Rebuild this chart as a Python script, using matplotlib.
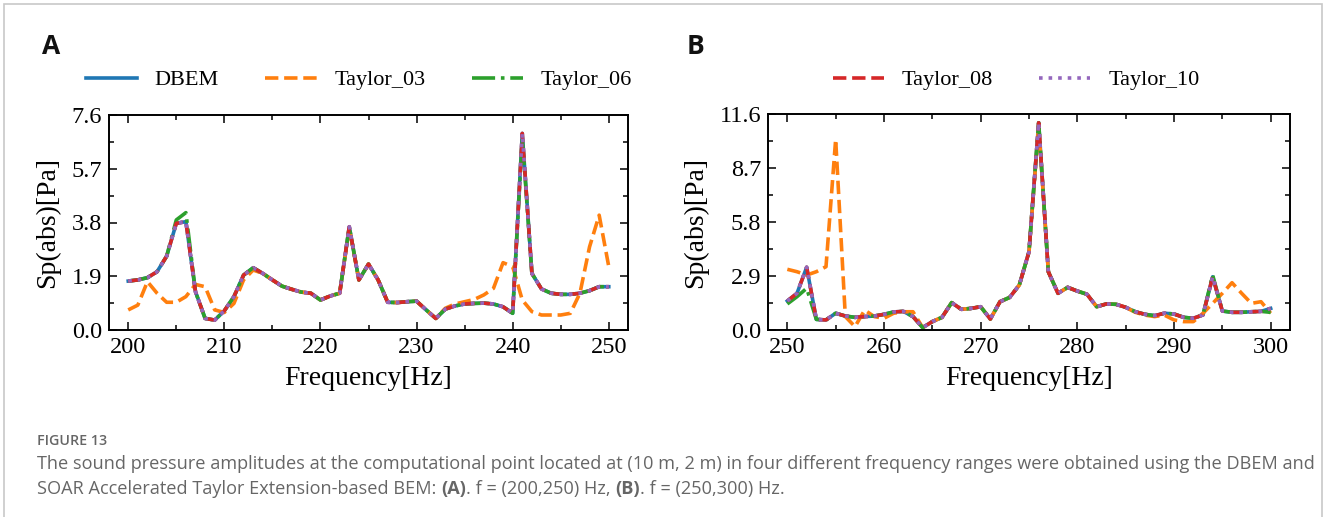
import matplotlib
matplotlib.use('Agg')
import matplotlib.pyplot as plt
from matplotlib.ticker import MultipleLocator, AutoMinorLocator
from matplotlib.patches import Rectangle

plt.rcParams['font.family'] = 'Liberation Serif'

# ---- data, panel A: 200-250 Hz ----
freq_a = list(range(200, 251))
dbem_a = [1.73, 1.77, 1.85, 2.06, 2.61, 3.77, 3.83, 1.35, 0.41, 0.35,
          0.68, 1.18, 1.94, 2.20, 2.00, 1.77, 1.55, 1.44, 1.34, 1.30,
          1.06, 1.20, 1.30, 3.65, 1.77, 2.33, 1.77, 0.98, 0.97, 1.00,
          1.02, 0.71, 0.41, 0.74, 0.85, 0.92, 0.94, 0.95, 0.92, 0.82,
          0.59, 6.95, 2.00, 1.45, 1.30, 1.26, 1.26, 1.30, 1.39, 1.53,
          1.53]
taylor03_a = [0.71, 0.88, 1.71, 1.30, 0.98, 0.98, 1.18, 1.61, 1.53, 0.71,
              0.62, 0.94, 1.77, 2.12, 2.00, 1.77, 1.55, 1.44, 1.34, 1.30,
              1.06, 1.20, 1.30, 3.60, 1.77, 2.33, 1.77, 0.98, 0.97, 1.00,
              1.02, 0.71, 0.41, 0.77, 0.92, 1.00, 1.08, 1.24, 1.47, 2.38,
              2.24, 1.06, 0.65, 0.53, 0.53, 0.53, 0.59, 1.30, 2.94, 4.06,
              2.24]
taylor06_a = list(dbem_a)
taylor06_a[5] = 3.89
taylor06_a[6] = 4.15
taylor06_a[41] = 6.80
taylor08_a = list(dbem_a)
taylor10_a = list(dbem_a)

# ---- data, panel B: 250-300 Hz ----
freq_b = list(range(250, 301))
dbem_b = [1.56, 1.97, 3.37, 0.57, 0.54, 0.90, 0.75, 0.68, 0.72, 0.75,
          0.84, 0.97, 1.00, 0.72, 0.13, 0.45, 0.68, 1.47, 1.11, 1.16,
          1.25, 0.59, 1.52, 1.75, 2.42, 4.20, 11.13, 3.13, 1.97, 2.29,
          2.09, 1.92, 1.25, 1.40, 1.38, 1.22, 0.98, 0.84, 0.77, 0.90,
          0.86, 0.68, 0.63, 0.81, 2.86, 1.02, 0.95, 0.95, 0.98, 1.00,
          1.16]
taylor03_b = [3.26, 3.13, 2.95, 3.13, 3.40, 10.24, 0.72, 0.18, 1.07, 0.72,
              0.63, 0.90, 0.98, 0.98, 0.13, 0.45, 0.68, 1.47, 1.11, 1.16,
              1.25, 0.59, 1.52, 1.75, 2.42, 4.20, 11.00, 3.13, 1.97, 2.29,
              2.09, 1.92, 1.25, 1.40, 1.38, 1.22, 0.95, 0.80, 0.72, 0.80,
              0.54, 0.45, 0.45, 0.90, 1.43, 1.97, 2.54, 1.97, 1.43, 1.52,
              0.90]
taylor06_b = list(dbem_b)
taylor06_b[0] = 1.40
taylor06_b[1] = 1.79
taylor06_b[2] = 2.24
taylor06_b[44] = 2.95
taylor06_b[50] = 0.95
taylor08_b = list(dbem_b)
taylor10_b = list(dbem_b)

yticks_a = [0.0, 1.9, 3.8, 5.7, 7.6]
yticks_b = [0.0, 2.9, 5.8, 8.7, 11.6]

styles = [('DBEM', '#1f77b4', '-'),
          ('Taylor_03', '#ff7f0e', '--'),
          ('Taylor_06', '#2ca02c', '-.'),
          ('Taylor_08', '#d62728', '--'),
          ('Taylor_10', '#9467bd', ':')]

fig = plt.figure(figsize=(13.28, 5.17), dpi=100)
W, H = 1328, 517

# light frame around the figure (open at the bottom)
fig.patches.append(Rectangle((4 / W, -0.05), 1322 / W - 4 / W, 1 - 4 / H + 0.05,
                             transform=fig.transFigure, fill=False,
                             edgecolor='#c8c8c8', lw=1.2))

ax_a = fig.add_axes([109 / W, 1 - 330 / H, (628 - 109) / W, 215 / H])
ax_b = fig.add_axes([768 / W, 1 - 330 / H, (1290 - 768) / W, 216 / H])


def draw(ax, x, series, xlim, yticks):
    lines = []
    for ys, (name, col, ls) in zip(series, styles):
        ln, = ax.plot(x, ys, color=col, linestyle=ls, linewidth=2.6, label=name)
        lines.append(ln)
    ax.set_xlim(*xlim)
    ax.set_ylim(yticks[0], yticks[-1])
    ax.set_yticks(yticks)
    ax.set_yticklabels(['%.1f' % v for v in yticks])
    ax.xaxis.set_major_locator(MultipleLocator(10))
    ax.xaxis.set_minor_locator(MultipleLocator(5))
    ax.yaxis.set_minor_locator(AutoMinorLocator(2))
    ax.tick_params(which='both', direction='in', top=True, right=True,
                   labelsize=17.5, width=1.1, pad=5)
    ax.tick_params(which='major', length=6)
    ax.tick_params(which='minor', length=3.5)
    for sp in ax.spines.values():
        sp.set_linewidth(1.4)
    ax.set_xlabel('Frequency[Hz]', fontsize=20, labelpad=6)
    ax.set_ylabel('Sp(abs)[Pa]', fontsize=20, labelpad=8)
    return lines


lines_a = draw(ax_a, freq_a, [dbem_a, taylor03_a, taylor06_a, taylor08_a, taylor10_a],
               (198, 252), yticks_a)
lines_b = draw(ax_b, freq_b, [dbem_b, taylor03_b, taylor06_b, taylor08_b, taylor10_b],
               (248, 302), yticks_b)

leg_kw = dict(loc='center', frameon=False, fontsize=16, handlelength=2.3,
              handletextpad=0.8, columnspacing=2.1, bbox_transform=fig.transFigure)
fig.legend(lines_a[:3], [s[0] for s in styles[:3]], ncol=3,
           bbox_to_anchor=(359 / W, 1 - 80 / H), **leg_kw)
fig.legend(lines_b[3:], [s[0] for s in styles[3:]], ncol=2,
           bbox_to_anchor=(1016 / W, 1 - 80 / H), **leg_kw)

fig.text(42 / W, 1 - 47 / H, 'A', family='Open Sans', fontweight='bold',
         fontsize=19, va='center', ha='left', color='#111111')
fig.text(687 / W, 1 - 47 / H, 'B', family='Open Sans', fontweight='bold',
         fontsize=19, va='center', ha='left', color='#111111')

# caption
cap_col = '#666666'
cap_size = 13.1
fig.text(37 / W, 1 - 445 / H, 'FIGURE 13', family='Open Sans', fontweight='semibold',
         fontsize=10.3, color=cap_col, va='baseline')
fig.text(37 / W, 1 - 469 / H,
         'The sound pressure amplitudes at the computational point located at (10 m, 2 m) '
         'in four different frequency ranges were obtained using the DBEM and',
         family='Open Sans', fontsize=cap_size, color=cap_col, va='baseline')

runs = [('SOAR Accelerated Taylor Extension-based BEM: ', 'normal'),
        ('(A)', 'bold'),
        ('. f = (200,250) Hz, ', 'normal'),
        ('(B)', 'bold'),
        ('. f = (250,300) Hz.', 'normal')]
renderer = fig.canvas.get_renderer()
xpos = 37 / W
for s, wt in runs:
    t = fig.text(xpos, 1 - 494 / H, s, family='Open Sans', fontweight=wt,
                 fontsize=cap_size, color=cap_col, va='baseline')
    # measure with a sentinel so trailing spaces count
    probe = fig.text(0, 0, s.replace(' ', '\u00a0') + '|', family='Open Sans',
                     fontweight=wt, fontsize=cap_size)
    bar = fig.text(0, 0, '|', family='Open Sans', fontweight=wt, fontsize=cap_size)
    wpx = probe.get_window_extent(renderer).width - bar.get_window_extent(renderer).width
    probe.remove()
    bar.remove()
    xpos += wpx / W

fig.savefig('out.png', dpi=100)
